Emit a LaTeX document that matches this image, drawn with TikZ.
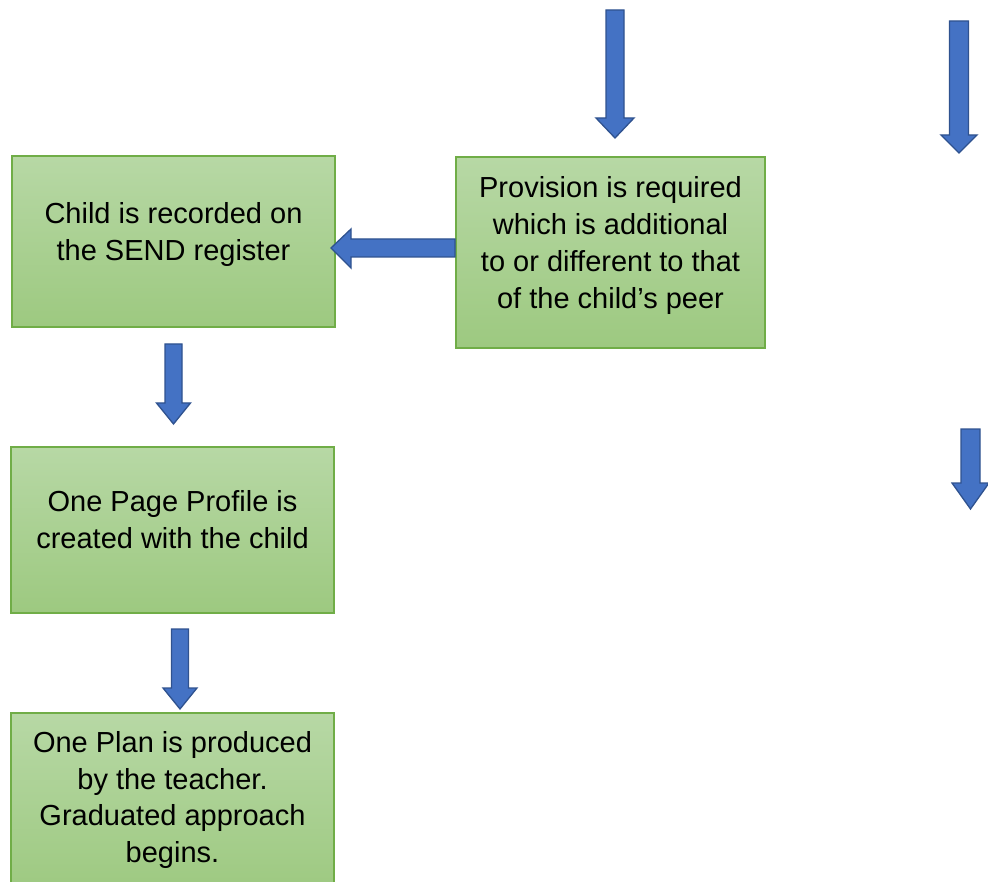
\documentclass[tikz,border=0pt]{standalone}
\usepackage{fontspec}
\setmainfont{Liberation Sans}
\begin{document}
\begin{tikzpicture}[x=1pt,y=-1pt,
  box/.style={draw={rgb,255:red,112;green,173;blue,71},line width=1.2pt,
    top color={rgb,255:red,183;green,216;blue,165},bottom color={rgb,255:red,157;green,201;blue,128},
    shading angle=0},
  txt/.style={align=center,font=\fontsize{29}{36.8}\selectfont,inner sep=0pt},
  blk/.style={fill={rgb,255:red,68;green,114;blue,196},draw={rgb,255:red,47;green,82;blue,143},line width=1.3pt,line join=miter}]
\useasboundingbox (0,0) rectangle (988,882);
\clip (0,0) rectangle (988,882);
% boxes
\path[box] (12,156) rectangle (335,327);
\coordinate (A) at (173.5,241.5);
\path[box] (456,157) rectangle (765,348);
\coordinate (B) at (610.5,252.5);
\path[box] (11,447) rectangle (334,613);
\coordinate (C) at (172.5,530);
\path[box] (11,713) rectangle (334,895);
\coordinate (D) at (172.5,797);
\node[txt] (tA) at ([yshift=7]A) {Child is recorded on\\the SEND register};
\node[txt] (tB) at ([yshift=7]B) {Provision is required\\which is additional\\to or different to that\\of the child’s peer};
\node[txt] (tC) at ([yshift=10]C) {One Page Profile is\\created with the child};
\node[txt] (tD) at ([yshift=-3]D) {One Plan is produced\\by the teacher.\\Graduated approach\\begins.};
% block arrows (down): centre x, top, head start, half shaft, half head, tip
\newcommand\blkdown[6]{\path[blk] (#1-#4,#2) -- (#1+#4,#2) -- (#1+#4,#3) -- (#1+#5,#3) -- (#1,#6) -- (#1-#5,#3) -- (#1-#4,#3) -- cycle;}
\blkdown{615}{10}{118}{9}{19}{138}
\blkdown{959}{21}{135}{9.5}{18}{153}
\blkdown{970.5}{429}{483}{9.5}{18.5}{509}
\blkdown{173.5}{344}{403}{8.5}{17}{424}
\blkdown{180}{629}{688}{8.5}{17}{709}
% horizontal arrow B -> A
\path[blk] (455,239) -- (455,257) -- (351,257) -- (351,268) -- (331,248) -- (351,229) -- (351,239) -- cycle;
\end{tikzpicture}
\end{document}
